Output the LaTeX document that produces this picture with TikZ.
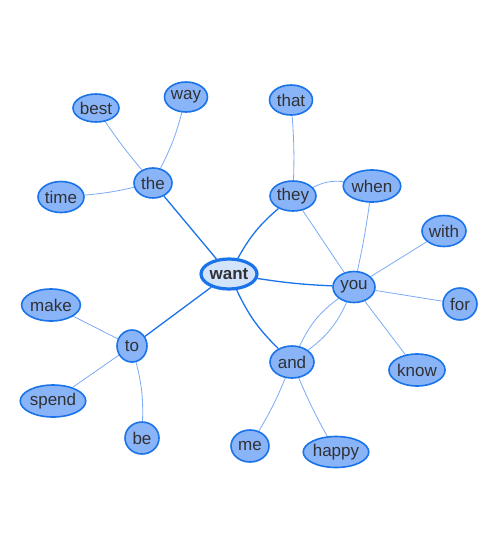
\documentclass[tikz,border=0pt]{standalone}
\usepackage{fontspec}
\setmainfont{Liberation Sans}
\usetikzlibrary{shapes.geometric,backgrounds}
\definecolor{nodefill}{HTML}{8AB4F8}
\definecolor{nodeedge}{HTML}{1A73E8}
\definecolor{rootfill}{HTML}{D2E3FC}
\definecolor{lightedge}{HTML}{7BAAF7}
\definecolor{txt}{HTML}{303134}
\begin{document}
\begin{tikzpicture}[x=1pt,y=-1pt,
  word/.style={ellipse,draw=nodeedge,fill=nodefill,line width=1.6pt,inner sep=0pt,
    text=txt,font=\fontsize{17}{20}\selectfont},
  root/.style={ellipse,draw=nodeedge,fill=rootfill,line width=3.2pt,inner sep=0pt,
    text=txt,font=\fontsize{17}{20}\selectfont\bfseries},
  main/.style={draw=nodeedge,line width=1.3pt},
  sub/.style={draw=lightedge,line width=0.8pt}]
\useasboundingbox (0,0) rectangle (500,550);
\node[root,minimum width=56pt,minimum height=30pt] (want) at (229,274) {want};
\node[word,minimum width=38pt,minimum height=30pt] (the) at (153,183) {the};
\node[word,minimum width=46pt,minimum height=28pt] (best) at (96,108) {best};
\node[word,minimum width=43pt,minimum height=30pt] (way) at (186,97) {way};
\node[word,minimum width=46pt,minimum height=31pt] (time) at (61,197) {time};
\node[word,minimum width=46pt,minimum height=30pt] (they) at (293,196) {they};
\node[word,minimum width=43pt,minimum height=30pt] (that) at (291,100) {that};
\node[word,minimum width=55pt,minimum height=32pt] (when) at (372,186) {when};
\node[word,minimum width=42pt,minimum height=31pt] (you) at (354,287) {you};
\node[word,minimum width=44pt,minimum height=31pt] (with) at (444,231) {with};
\node[word,minimum width=34pt,minimum height=32pt] (for) at (460,304) {for};
\node[word,minimum width=54pt,minimum height=32pt] (know) at (417,370) {know};
\node[word,minimum width=44pt,minimum height=32pt] (and) at (292,362) {and};
\node[word,minimum width=38pt,minimum height=32pt] (me) at (250,446) {me};
\node[word,minimum width=60pt,minimum height=31pt] (happy) at (336,452) {happy};
\node[word,minimum width=30pt,minimum height=32pt] (to) at (132,346) {to};
\node[word,minimum width=56pt,minimum height=32pt] (make) at (51,305) {make};
\node[word,minimum width=60pt,minimum height=32pt] (spend) at (53,401) {spend};
\node[word,minimum width=34pt,minimum height=32pt] (be) at (142,438) {be};
\begin{scope}[on background layer]
\draw[main] (want) to (the);
\draw[main] (want) to[bend left=10] (they);
\draw[main] (want) to[bend right=3] (you);
\draw[main] (want) to[bend right=10] (and);
\draw[main] (want) to (to);
\draw[sub] (the) to[bend left=3] (best);
\draw[sub] (the) to[bend right=6] (way);
\draw[sub] (the) to[bend left=4] (time);
\draw[sub] (they) to[bend right=3] (that);
\draw[sub] (they) to[bend left=16] (when);
\draw[sub] (they) to (you);
\draw[sub] (when) to[bend left=2] (you);
\draw[sub] (you) to (with);
\draw[sub] (you) to (for);
\draw[sub] (you) to (know);
\draw[sub] (you) to[bend right=14] (and);
\draw[sub] (you) to[bend left=14] (and);
\draw[sub] (and) to[bend left=4] (me);
\draw[sub] (and) to[bend right=3] (happy);
\draw[sub] (to) to (make);
\draw[sub] (to) to (spend);
\draw[sub] (to) to[bend left=8] (be);
\end{scope}
\end{tikzpicture}
\end{document}
